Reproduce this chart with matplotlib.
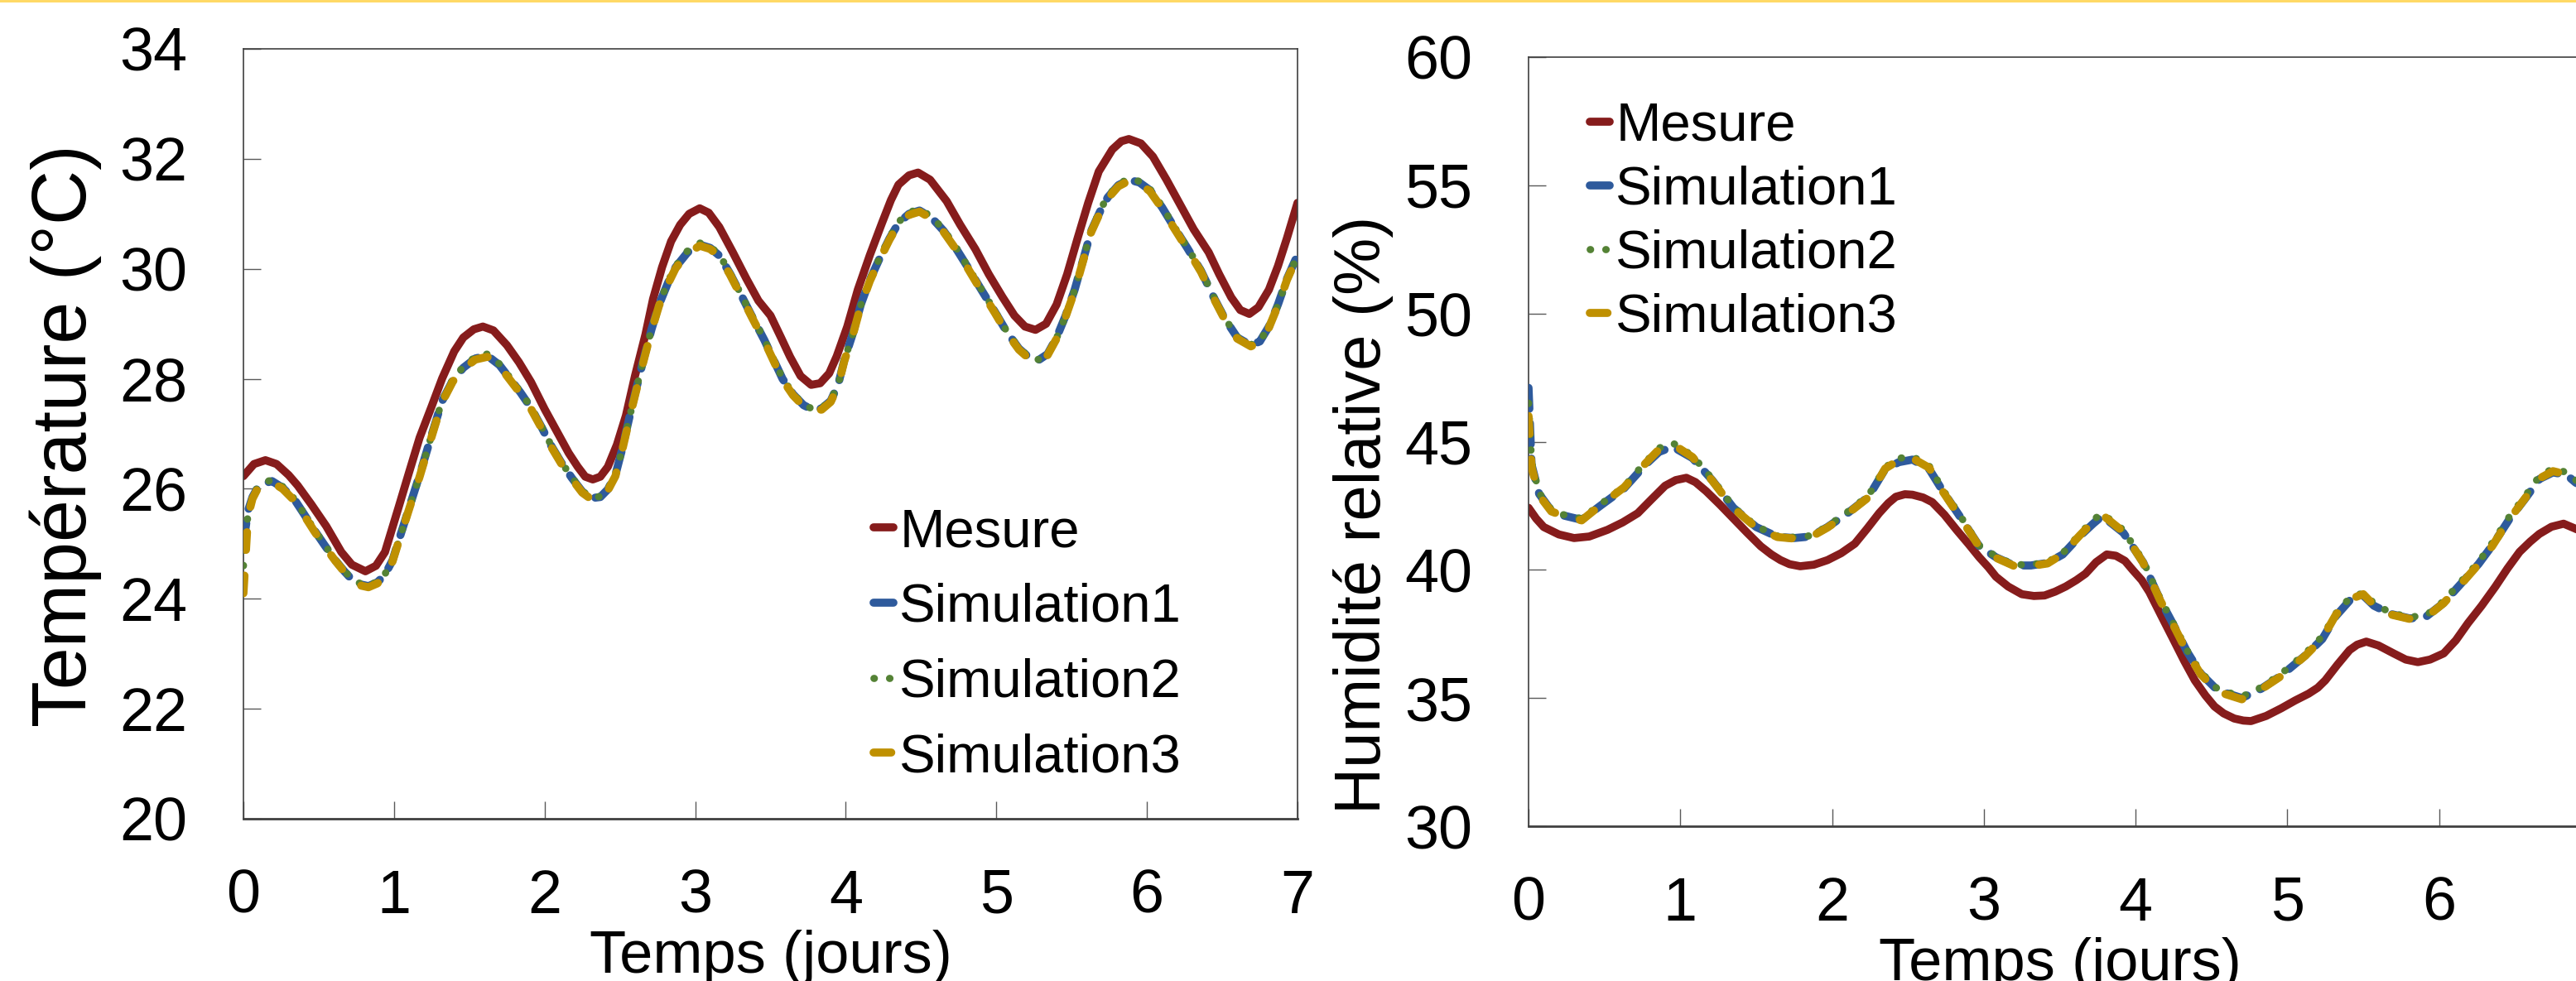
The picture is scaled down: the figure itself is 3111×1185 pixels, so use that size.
import matplotlib
matplotlib.use("Agg")
import matplotlib.pyplot as plt
from matplotlib.patches import Rectangle

plt.rcParams['font.family'] = ['Liberation Sans', 'DejaVu Sans']

# ---------------- data: temperature (left) ----------------
days_temp_mes = [0, 0.07, 0.146, 0.22, 0.30, 0.36, 0.45, 0.55, 0.65, 0.72, 0.81, 0.88, 0.94,
                 1.03, 1.10, 1.17, 1.25, 1.32, 1.40, 1.46, 1.53, 1.59, 1.66, 1.75, 1.83, 1.91,
                 2.00, 2.09, 2.16, 2.22, 2.27, 2.32, 2.37, 2.42, 2.48, 2.54, 2.60, 2.67, 2.72,
                 2.78, 2.84, 2.90, 2.96, 3.03, 3.09, 3.16, 3.25, 3.34, 3.42, 3.50, 3.57, 3.63,
                 3.70, 3.77, 3.83, 3.89, 3.94, 4.01, 4.08, 4.16, 4.24, 4.30, 4.35, 4.42, 4.48,
                 4.56, 4.67, 4.76, 4.86, 4.95, 5.04, 5.12, 5.19, 5.26, 5.33, 5.40, 5.47, 5.54,
                 5.61, 5.68, 5.77, 5.83, 5.88, 5.96, 6.04, 6.13, 6.22, 6.31, 6.41, 6.48, 6.56,
                 6.62, 6.68, 6.74, 6.81, 6.87, 6.93, 7.0]
temp_mesure = [26.23, 26.45, 26.52, 26.45, 26.25, 26.06, 25.72, 25.32, 24.85, 24.62, 24.50, 24.60, 24.85,
               25.66, 26.30, 26.93, 27.50, 28.01, 28.50, 28.75, 28.90, 28.95, 28.88, 28.61, 28.30, 27.94,
               27.45, 27.00, 26.65, 26.40, 26.22, 26.17, 26.22, 26.40, 26.80, 27.33, 28.05, 28.81, 29.45,
               30.03, 30.50, 30.80, 31.00, 31.10, 31.02, 30.76, 30.30, 29.82, 29.42, 29.15, 28.75, 28.40,
               28.05, 27.89, 27.92, 28.10, 28.41, 28.95, 29.62, 30.25, 30.83, 31.25, 31.53, 31.70, 31.75,
               31.62, 31.23, 30.80, 30.36, 29.90, 29.49, 29.15, 28.95, 28.89, 29.00, 29.35, 29.90, 30.56,
               31.20, 31.77, 32.17, 32.32, 32.36, 32.28, 32.04, 31.62, 31.17, 30.72, 30.30, 29.90, 29.48,
               29.25, 29.18, 29.30, 29.62, 30.05, 30.56, 31.20]

days_temp_sim = [0, 0.03, 0.06, 0.09, 0.14, 0.19, 0.26, 0.34, 0.40, 0.47, 0.54, 0.61, 0.67, 0.72,
                 0.78, 0.83, 0.89, 0.94, 0.99, 1.03, 1.10, 1.17, 1.25, 1.32, 1.39, 1.46, 1.54, 1.62,
                 1.70, 1.77, 1.84, 1.91, 1.98, 2.04, 2.11, 2.18, 2.25, 2.31, 2.37, 2.42, 2.47, 2.51,
                 2.58, 2.65, 2.71, 2.76, 2.82, 2.87, 2.95, 3.03, 3.10, 3.16, 3.23, 3.30, 3.38, 3.46,
                 3.52, 3.58, 3.65, 3.72, 3.78, 3.84, 3.90, 3.95, 3.99, 4.05, 4.10, 4.16, 4.22, 4.29,
                 4.35, 4.42, 4.49, 4.57, 4.65, 4.73, 4.81, 4.90, 4.99, 5.07, 5.15, 5.22, 5.28, 5.34,
                 5.40, 5.46, 5.52, 5.58, 5.63, 5.69, 5.74, 5.81, 5.88, 5.95, 6.02, 6.10, 6.18, 6.27,
                 6.36, 6.44, 6.52, 6.60, 6.69, 6.75, 6.81, 6.87, 6.93, 7.0]
temp_sim1 = [25.00, 25.60, 25.85, 26.00, 26.10, 26.14, 26.02, 25.80, 25.55, 25.25, 24.97, 24.70, 24.50, 24.35,
             24.26, 24.23, 24.30, 24.44, 24.70, 25.05, 25.65, 26.25, 26.98, 27.60, 27.97, 28.20, 28.37, 28.42,
             28.25, 28.00, 27.75, 27.47, 27.12, 26.80, 26.48, 26.20, 25.95, 25.83, 25.85, 25.99, 26.25, 26.67,
             27.50, 28.28, 28.90, 29.35, 29.75, 30.03, 30.30, 30.44, 30.38, 30.24, 29.92, 29.55, 29.12, 28.70,
             28.35, 28.00, 27.72, 27.52, 27.44, 27.46, 27.60, 27.90, 28.34, 28.85, 29.35, 29.80, 30.16, 30.55,
             30.83, 31.00, 31.06, 30.93, 30.69, 30.38, 30.03, 29.62, 29.22, 28.85, 28.55, 28.38, 28.34, 28.45,
             28.75, 29.15, 29.62, 30.20, 30.69, 31.05, 31.30, 31.52, 31.62, 31.57, 31.43, 31.12, 30.76, 30.37,
             29.96, 29.50, 29.08, 28.75, 28.61, 28.68, 28.95, 29.35, 29.82, 30.25]
temp_sim2 = [24.60, 25.55, 25.84, 26.01, 26.12, 26.16, 26.04, 25.81, 25.56, 25.26, 24.98, 24.71, 24.51, 24.36,
             24.27, 24.24, 24.31, 24.45, 24.70, 25.04, 25.64, 26.24, 26.98, 27.61, 27.99, 28.22, 28.40, 28.45,
             28.27, 28.02, 27.76, 27.48, 27.13, 26.81, 26.49, 26.21, 25.96, 25.84, 25.86, 26.00, 26.25, 26.66,
             27.49, 28.27, 28.90, 29.36, 29.77, 30.05, 30.33, 30.47, 30.40, 30.26, 29.93, 29.56, 29.13, 28.71,
             28.36, 28.01, 27.73, 27.53, 27.45, 27.47, 27.61, 27.90, 28.33, 28.84, 29.34, 29.80, 30.17, 30.57,
             30.85, 31.03, 31.08, 30.95, 30.71, 30.40, 30.04, 29.63, 29.23, 28.86, 28.56, 28.39, 28.35, 28.45,
             28.74, 29.14, 29.61, 30.20, 30.70, 31.07, 31.32, 31.54, 31.64, 31.59, 31.45, 31.14, 30.77, 30.38,
             29.97, 29.51, 29.09, 28.76, 28.62, 28.69, 28.94, 29.34, 29.81, 30.24]
temp_sim3 = [24.10, 25.50, 25.82, 25.98, 26.08, 26.12, 26.00, 25.78, 25.53, 25.23, 24.95, 24.69, 24.49, 24.33,
             24.24, 24.21, 24.28, 24.42, 24.68, 25.03, 25.63, 26.22, 26.95, 27.58, 27.95, 28.18, 28.35, 28.40,
             28.23, 27.98, 27.73, 27.45, 27.10, 26.78, 26.46, 26.18, 25.93, 25.81, 25.83, 25.97, 26.23, 26.64,
             27.47, 28.25, 28.88, 29.33, 29.73, 30.01, 30.28, 30.42, 30.36, 30.22, 29.90, 29.53, 29.10, 28.68,
             28.33, 27.98, 27.70, 27.50, 27.42, 27.44, 27.58, 27.88, 28.32, 28.83, 29.33, 29.78, 30.14, 30.53,
             30.81, 30.98, 31.04, 30.91, 30.67, 30.36, 30.01, 29.60, 29.20, 28.83, 28.53, 28.36, 28.32, 28.43,
             28.73, 29.13, 29.60, 30.18, 30.67, 31.03, 31.28, 31.50, 31.60, 31.55, 31.41, 31.10, 30.74, 30.35,
             29.94, 29.48, 29.06, 28.73, 28.59, 28.66, 28.93, 29.33, 29.80, 30.23]

# ---------------- data: relative humidity (right) ----------------
days_rh_mes = [0, 0.05, 0.10, 0.20, 0.30, 0.40, 0.52, 0.62, 0.72, 0.81, 0.90, 0.97, 1.04, 1.10,
               1.17, 1.26, 1.35, 1.44, 1.53, 1.60, 1.66, 1.72, 1.79, 1.88, 1.97, 2.06, 2.15, 2.23,
               2.31, 2.37, 2.42, 2.48, 2.53, 2.60, 2.66, 2.74, 2.82, 2.90, 2.97, 3.03, 3.08, 3.16,
               3.25, 3.33, 3.40, 3.47, 3.54, 3.61, 3.67, 3.74, 3.81, 3.87, 3.93, 3.98, 4.04, 4.09,
               4.17, 4.25, 4.32, 4.39, 4.46, 4.52, 4.58, 4.65, 4.71, 4.76, 4.86, 4.96, 5.05, 5.14,
               5.20, 5.25, 5.33, 5.41, 5.46, 5.52, 5.60, 5.70, 5.78, 5.86, 5.94, 6.03, 6.11, 6.19,
               6.28, 6.37, 6.45, 6.53, 6.60, 6.66, 6.74, 6.82, 6.90, 7.0]
rh_mesure = [42.42, 42.00, 41.67, 41.38, 41.24, 41.30, 41.56, 41.85, 42.21, 42.75, 43.28, 43.50, 43.59, 43.42,
             43.07, 42.55, 42.00, 41.45, 40.92, 40.60, 40.38, 40.22, 40.14, 40.20, 40.38, 40.65, 41.02, 41.60,
             42.21, 42.60, 42.85, 42.95, 42.93, 42.82, 42.64, 42.15, 41.56, 41.00, 40.49, 40.10, 39.73, 39.35,
             39.05, 38.98, 39.00, 39.15, 39.35, 39.60, 39.85, 40.30, 40.60, 40.55, 40.35, 40.00, 39.60, 39.14,
             38.20, 37.27, 36.45, 35.69, 35.10, 34.67, 34.40, 34.20, 34.12, 34.10, 34.30, 34.60, 34.90, 35.17,
             35.40, 35.69, 36.30, 36.87, 37.08, 37.20, 37.05, 36.74, 36.50, 36.40, 36.50, 36.74, 37.25, 37.92,
             38.60, 39.34, 40.05, 40.70, 41.10, 41.40, 41.68, 41.80, 41.60, 41.30]

days_rh_sim = [0, 0.02, 0.07, 0.15, 0.23, 0.35, 0.48, 0.63, 0.77, 0.86, 0.95, 1.08, 1.21, 1.35,
               1.50, 1.64, 1.75, 1.86, 1.97, 2.10, 2.24, 2.35, 2.44, 2.53, 2.64, 2.73, 2.84, 2.97,
               3.08, 3.20, 3.31, 3.42, 3.52, 3.63, 3.72, 3.78, 3.92, 4.05, 4.16, 4.25, 4.34, 4.43,
               4.54, 4.70, 4.83, 4.96, 5.12, 5.23, 5.32, 5.41, 5.50, 5.57, 5.68, 5.81, 5.92, 6.03,
               6.15, 6.26, 6.35, 6.46, 6.57, 6.66, 6.75, 6.84, 6.90, 7.0]
rh_sim1 = [47.10, 44.10, 42.96, 42.31, 42.12, 41.95, 42.53, 43.18, 44.10, 44.60, 44.80, 44.36, 43.50, 42.42,
           41.67, 41.29, 41.24, 41.30, 41.67, 42.20, 42.85, 43.93, 44.20, 44.30, 43.93, 43.07, 42.10, 40.92,
           40.49, 40.17, 40.17, 40.27, 40.60, 41.30, 41.80, 42.10, 41.44, 40.29, 38.85, 37.85, 36.80, 35.95,
           35.30, 35.00, 35.37, 35.88, 36.67, 37.30, 38.20, 38.80, 39.00, 38.60, 38.28, 38.10, 38.20, 38.71,
           39.50, 40.23, 40.95, 41.95, 42.80, 43.54, 43.80, 43.70, 43.40, 43.10]
rh_sim2 = [46.50, 44.20, 43.00, 42.35, 42.15, 42.00, 42.58, 43.25, 44.20, 44.75, 44.95, 44.45, 43.55, 42.45,
           41.70, 41.32, 41.27, 41.33, 41.70, 42.25, 42.90, 44.00, 44.35, 44.42, 44.05, 43.12, 42.15, 40.95,
           40.52, 40.20, 40.20, 40.30, 40.65, 41.38, 41.95, 42.20, 41.55, 40.35, 38.90, 37.90, 36.85, 36.00,
           35.35, 35.05, 35.42, 35.95, 36.75, 37.40, 38.30, 38.90, 39.10, 38.70, 38.32, 38.15, 38.25, 38.78,
           39.58, 40.30, 41.05, 42.05, 42.90, 43.65, 43.95, 43.80, 43.50, 43.20]
rh_sim3 = [46.00, 44.00, 42.90, 42.28, 42.10, 41.93, 42.55, 43.22, 44.15, 44.70, 44.90, 44.40, 43.48, 42.40,
           41.65, 41.28, 41.22, 41.28, 41.65, 42.18, 42.83, 43.95, 44.28, 44.35, 43.98, 43.05, 42.08, 40.90,
           40.47, 40.15, 40.15, 40.25, 40.62, 41.33, 41.88, 42.15, 41.48, 40.27, 38.83, 37.83, 36.78, 35.92,
           35.25, 34.95, 35.35, 35.86, 36.66, 37.32, 38.25, 38.85, 39.05, 38.62, 38.26, 38.08, 38.18, 38.70,
           39.48, 40.22, 40.93, 41.95, 42.82, 43.56, 43.85, 43.72, 43.42, 43.12]

series_labels = ["Mesure", "Simulation1", "Simulation2", "Simulation3"]
x_ticks = [0, 1, 2, 3, 4, 5, 6, 7]
temp_ticks = [20, 22, 24, 26, 28, 30, 32, 34]
rh_ticks = [30, 35, 40, 45, 50, 55, 60]

# ---------------- styling ----------------
W, H = 3111, 1185
DPI = 100
C_MES = '#861C1C'
C_S1 = '#2E5A9C'
C_S2 = '#548235'
C_S3 = '#BF9000'
TICK_FS = 53
LABEL_FS = 52
LEG_FS = 47
LW = 7

fig = plt.figure(figsize=(W / DPI, H / DPI), dpi=DPI)
fig.patch.set_facecolor('white')

# thin yellow line at the very top
fig.add_artist(Rectangle((0, 1 - 3 / H), 1, 3 / H, transform=fig.transFigure,
                         facecolor='#FFD966', edgecolor='none'))


def px_axes(x0, y_top, x1, y_bot):
    return fig.add_axes([x0 / W, 1 - y_bot / H, (x1 - x0) / W, (y_bot - y_top) / H])


def draw(ax, dm, ym, ds, y1, y2, y3):
    l0, = ax.plot(dm, ym, color=C_MES, lw=LW, solid_capstyle='round', solid_joinstyle='round', zorder=2)
    l1, = ax.plot(ds, y1, color=C_S1, lw=LW, dashes=(2.6, 1.8), dash_capstyle='round',
                  dash_joinstyle='round', zorder=3)
    l2, = ax.plot(ds, y2, color=C_S2, lw=LW * 0.9, dashes=(0.05, 2.1), dash_capstyle='round',
                  dash_joinstyle='round', zorder=4)
    l3, = ax.plot(ds, y3, color=C_S3, lw=LW, dashes=(2.2, 3.2), dash_capstyle='round',
                  dash_joinstyle='round', zorder=5)
    return [l0, l1, l2, l3]


def style(ax, yticks, ylim):
    ax.set_xlim(0, 7)
    ax.set_ylim(*ylim)
    ax.set_xticks(x_ticks)
    ax.set_yticks(yticks)
    ax.tick_params(axis='both', direction='in', length=15, width=1.0, colors='#595959',
                   labelcolor='black', labelsize=TICK_FS)
    ax.tick_params(axis='x', pad=43)
    ax.tick_params(axis='y', pad=49)
    for s in ax.spines.values():
        s.set_color('#404040')
        s.set_linewidth(1.2)
    ax.spines['bottom'].set_linewidth(2.0)


# left axes (temperature)
axL = px_axes(294, 59, 1567, 989)
hL = draw(axL, days_temp_mes, temp_mesure, days_temp_sim, temp_sim1, temp_sim2, temp_sim3)
style(axL, temp_ticks, (20, 34))
axL.set_xlabel("Temps (jours)", fontsize=LABEL_FS, labelpad=4)
axL.set_ylabel("Température (°C)", fontsize=66)
axL.yaxis.set_label_coords(-0.134, 0.498)

# right axes (humidity) — extends beyond the right edge of the figure
axR = px_axes(1846, 69, 3129, 998)
hR = draw(axR, days_rh_mes, rh_mesure, days_rh_sim, rh_sim1, rh_sim2, rh_sim3)
style(axR, rh_ticks, (30, 60))
axR.set_xlabel("Temps (jours)", fontsize=LABEL_FS, labelpad=4)
axR.set_ylabel("Humidité relative (%)", fontsize=56)
axR.yaxis.set_label_coords(-0.127, 0.405)

leg_kw = dict(frameon=False, fontsize=LEG_FS, handlelength=0.36, handletextpad=0.12,
              borderpad=0, borderaxespad=0, loc='upper left', bbox_transform=fig.transFigure)
axL.legend(hL, series_labels, labelspacing=0.47,
           bbox_to_anchor=(1055 / W, 1 - 613 / H), **leg_kw)
axR.legend(hR, series_labels, labelspacing=0.26,
           bbox_to_anchor=(1920 / W, 1 - 123 / H), **leg_kw)

fig.savefig("out.png", dpi=DPI, facecolor='white')
